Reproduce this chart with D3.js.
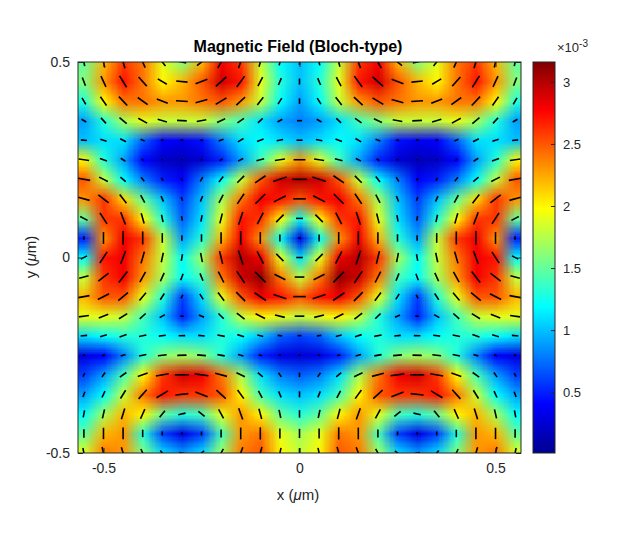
<!DOCTYPE html>
<html>
<head>
<meta charset="utf-8">
<script src="https://cdn.jsdelivr.net/npm/d3@7"></script>
<style>
  body { margin: 0; background: #fff; }
  text { font-family: "Liberation Sans", Arial, sans-serif; }
</style>
</head>
<body>
<div id="chart"></div>
<script>
// grid positions (um)
var xs_grid = [-0.55,-0.5,-0.45,-0.4,-0.35,-0.3,-0.25,-0.2,-0.15,-0.1,-0.05,0,0.05,0.1,0.15,0.2,0.25,0.3,0.35,0.4,0.45,0.5,0.55];
var ys_grid = [0.5,0.45,0.4,0.35,0.3,0.25,0.2,0.15,0.1,0.05,0,-0.05,-0.1,-0.15,-0.2,-0.25,-0.3,-0.35,-0.4,-0.45,-0.5];

// |B| (x1e-3), one row per ys_grid value
var magnitude = [
  [1.5,2.2,2.6,2.4,1.9,1.6,2.2,2.8,2.6,1.8,1.2,1.0,1.2,1.8,2.6,2.8,2.2,1.6,1.9,2.4,2.6,2.2,1.5],
  [1.6,2.3,2.7,2.4,2.0,2.2,2.5,2.9,2.7,1.9,1.3,1.0,1.3,1.9,2.7,2.9,2.5,2.2,2.0,2.4,2.7,2.3,1.6],
  [1.3,2.0,2.4,2.4,2.3,2.3,2.4,2.5,2.3,1.8,1.2,0.9,1.2,1.8,2.3,2.5,2.4,2.3,2.3,2.4,2.4,2.0,1.3],
  [0.9,1.3,1.7,1.9,1.8,1.8,1.8,1.6,1.4,1.1,0.9,0.8,0.9,1.1,1.4,1.6,1.8,1.8,1.8,1.9,1.7,1.3,0.9],
  [1.0,1.1,1.1,0.7,0.4,0.35,0.45,0.8,1.1,1.2,1.1,1.0,1.1,1.2,1.1,0.8,0.45,0.35,0.4,0.7,1.1,1.1,1.0],
  [2.0,1.3,0.9,0.4,0.2,0.15,0.25,0.5,0.9,1.4,1.9,2.3,1.9,1.4,0.9,0.5,0.25,0.15,0.2,0.4,0.9,1.3,2.0],
  [2.5,1.8,1.2,0.8,0.5,0.4,0.8,1.2,1.8,2.5,2.9,3.0,2.9,2.5,1.8,1.2,0.8,0.4,0.5,0.8,1.2,1.8,2.5],
  [2.3,2.6,2.1,1.5,1.0,0.6,1.0,1.7,2.4,2.8,2.7,2.5,2.7,2.8,2.4,1.7,1.0,0.6,1.0,1.5,2.1,2.6,2.3],
  [1.5,2.6,2.6,2.0,1.3,0.7,1.1,1.9,2.7,2.6,2.0,1.2,2.0,2.6,2.7,1.9,1.1,0.7,1.3,2.0,2.6,2.6,1.5],
  [0.5,2.3,2.8,2.6,1.8,0.9,1.3,2.2,2.8,2.3,1.2,0.3,1.2,2.3,2.8,2.2,1.3,0.9,1.8,2.6,2.8,2.3,0.5],
  [1.2,2.7,2.8,2.4,1.8,1.2,1.7,2.6,3.0,2.8,1.9,1.1,1.9,2.8,3.0,2.6,1.7,1.2,1.8,2.4,2.8,2.7,1.2],
  [1.8,2.6,2.8,2.3,1.7,1.2,1.4,2.4,2.9,3.1,2.4,1.8,2.4,3.1,2.9,2.4,1.4,1.2,1.7,2.3,2.8,2.6,1.8],
  [2.2,2.5,2.5,1.9,1.3,0.6,1.1,1.9,2.5,2.8,2.7,2.5,2.7,2.8,2.5,1.9,1.1,0.6,1.3,1.9,2.5,2.5,2.2],
  [1.9,1.9,1.8,1.4,1.0,0.5,0.9,1.3,1.8,2.0,1.9,1.8,1.9,2.0,1.8,1.3,0.9,0.5,1.0,1.4,1.8,1.9,1.9],
  [1.1,1.2,1.3,1.3,1.2,1.1,1.1,1.3,1.2,1.0,0.7,0.6,0.7,1.0,1.2,1.3,1.1,1.1,1.2,1.3,1.3,1.2,1.1],
  [0.3,0.4,0.8,1.3,1.6,1.7,1.6,1.3,0.9,0.5,0.3,0.25,0.3,0.5,0.9,1.3,1.6,1.7,1.6,1.3,0.8,0.4,0.3],
  [0.6,0.9,1.4,2.0,2.6,2.9,2.8,2.4,1.7,1.1,0.8,0.7,0.8,1.1,1.7,2.4,2.8,2.9,2.6,2.0,1.4,0.9,0.6],
  [0.9,1.2,1.8,2.4,2.7,2.6,2.6,2.5,2.0,1.4,1.1,1.0,1.1,1.4,2.0,2.5,2.6,2.6,2.7,2.4,1.8,1.2,0.9],
  [1.2,1.7,2.2,2.0,1.5,1.3,1.4,1.9,2.3,2.0,1.5,1.3,1.5,2.0,2.3,1.9,1.4,1.3,1.5,2.0,2.2,1.7,1.2],
  [1.5,2.2,2.3,1.3,0.6,0.3,0.6,1.4,2.3,2.4,1.9,1.7,1.9,2.4,2.3,1.4,0.6,0.3,0.6,1.3,2.3,2.2,1.5],
  [1.9,2.4,2.3,1.6,1.1,0.9,1.1,1.7,2.4,2.5,2.0,1.8,2.0,2.5,2.4,1.7,1.1,0.9,1.1,1.6,2.3,2.4,1.9]
];

// in-plane direction of the arrows (degrees from +x), same grid
var direction = [
  [-79,-77,-73,-66,-51,-12,38,61,70,75,78,90,-78,-75,-70,-61,-38,12,51,66,73,77,79],
  [-69,-65,-58,-48,-31,-6,21,42,54,62,67,90,-67,-62,-54,-42,-21,6,31,48,58,65,69],
  [-60,-55,-47,-36,-22,-4,15,31,43,52,58,90,-58,-52,-43,-31,-15,4,22,36,47,55,60],
  [-30,-47,-39,-29,-17,-3,11,24,35,43,30,0,-30,-43,-35,-24,-11,3,17,29,39,47,30],
  [-6,-17,-27,-24,-14,-3,9,20,30,22,11,0,-11,-22,-30,-20,-9,3,14,24,27,17,6],
  [-8,-21,-32,-42,-30,-2,25,35,25,15,8,0,-8,-15,-25,-35,-25,2,30,42,32,21,8],
  [-10,-27,-40,-50,-57,-62,59,53,45,34,18,0,-18,-34,-45,-53,-59,62,57,50,40,27,10],
  [-15,-38,-52,-61,-66,-70,68,63,56,45,27,0,-27,-45,-56,-63,-68,70,66,61,52,38,15],
  [-28,-57,-69,-74,-78,-80,79,76,72,63,45,0,-45,-63,-72,-76,-79,80,78,74,69,57,28],
  [90,90,90,90,90,90,90,90,90,90,90,0,90,90,90,90,90,90,90,90,90,90,90],
  [28,57,69,74,78,80,-79,-76,-72,-63,-45,0,45,63,72,76,79,-80,-78,-74,-69,-57,-28],
  [15,38,52,61,66,70,-68,-63,-56,-45,-27,0,27,45,56,63,68,-70,-66,-61,-52,-38,-15],
  [10,27,40,50,57,62,-59,-53,-45,-34,-18,0,18,34,45,53,59,-62,-57,-50,-40,-27,-10],
  [8,21,32,42,30,2,-25,-45,-37,-27,-14,0,14,27,37,45,25,-2,-30,-42,-32,-21,-8],
  [6,17,20,12,7,2,-5,-10,-18,-15,-8,0,8,15,18,10,5,-2,-7,-12,-20,-17,-6],
  [5,30,20,12,6,2,-5,-10,-15,-20,-15,0,15,20,15,10,5,-2,-6,-12,-20,-30,-5],
  [60,55,35,20,10,0,-8,-15,-25,-40,-55,90,55,40,25,15,8,0,-10,-20,-35,-55,-60],
  [69,65,58,48,31,6,-21,-42,-54,-62,-67,90,67,62,54,42,21,-6,-31,-48,-58,-65,-69],
  [79,77,73,66,51,12,-38,-61,-70,-75,-78,90,78,75,70,61,38,-12,-51,-66,-73,-77,-79],
  [90,90,90,90,90,90,90,90,90,90,90,90,90,90,90,90,90,90,90,90,90,90,90],
  [-79,-77,-73,-66,-51,-12,38,61,70,75,78,90,-78,-75,-70,-61,-38,12,51,66,73,77,79]
];

var x_ticks = [-0.5, 0, 0.5];
var y_ticks = [-0.5, 0, 0.5];
var cbar_ticks = [0.5, 1, 1.5, 2, 2.5, 3];
var cbar_range = [0.01, 3.16];

const width = 640, height = 533;
const plot = {left: 78, right: 521, top: 62, bottom: 453};
const fmt = d => String(d);   // plain hyphen minus, like MATLAB

const svg = d3.select("#chart").append("svg")
  .attr("width", width).attr("height", height);
svg.append("rect").attr("width", width).attr("height", height).attr("fill", "#fff");

const x = d3.scaleLinear().domain([-0.565, 0.565]).range([plot.left, plot.right]);
const y = d3.scaleLinear().domain([-0.5, 0.5]).range([plot.bottom, plot.top]);

// MATLAB jet
const jetStops = ["#00008f", "#0000ff", "#00ffff", "#ffff00", "#ff0000", "#800000"];
const jetPos = [0, 0.125, 0.375, 0.625, 0.875, 1];
const jet = d3.scaleLinear().domain(jetPos).range(jetStops).clamp(true);
const color = v => jet((v - cbar_range[0]) / (cbar_range[1] - cbar_range[0]));

svg.append("clipPath").attr("id", "clip")
  .append("rect")
  .attr("x", plot.left).attr("y", plot.top)
  .attr("width", plot.right - plot.left).attr("height", plot.bottom - plot.top);

// heat map: one canvas pixel per grid node, scaled up smoothly
const cv = document.createElement("canvas");
cv.width = xs_grid.length; cv.height = ys_grid.length;
const ctx = cv.getContext("2d");
magnitude.forEach((row, j) => row.forEach((v, i) => {
  ctx.fillStyle = color(v);
  ctx.fillRect(i, j, 1, 1);
}));
const dx = 0.025, dy = 0.025;
svg.append("g").attr("clip-path", "url(#clip)")
  .append("image")
  .attr("href", cv.toDataURL())
  .attr("x", x(xs_grid[0] - dx))
  .attr("y", y(ys_grid[0] + dy))
  .attr("width", x(xs_grid[xs_grid.length - 1] + dx) - x(xs_grid[0] - dx))
  .attr("height", y(ys_grid[ys_grid.length - 1] - dy) - y(ys_grid[0] + dy))
  .attr("preserveAspectRatio", "none");

// arrows
const arrows = [];
ys_grid.forEach((yy, j) => xs_grid.forEach((xx, i) => {
  arrows.push({x: xx, y: yy, m: magnitude[j][i], a: direction[j][i]});
}));
const len = m => 15 * Math.pow(m / 3.1, 0.8);
svg.append("g").attr("clip-path", "url(#clip)")
  .selectAll("line").data(arrows).join("line")
  .attr("x1", d => x(d.x) - len(d.m) / 2 * Math.cos(d.a * Math.PI / 180))
  .attr("x2", d => x(d.x) + len(d.m) / 2 * Math.cos(d.a * Math.PI / 180))
  .attr("y1", d => y(d.y) + len(d.m) / 2 * Math.sin(d.a * Math.PI / 180))
  .attr("y2", d => y(d.y) - len(d.m) / 2 * Math.sin(d.a * Math.PI / 180))
  .attr("stroke", "#000").attr("stroke-width", 1.6);

// axes (ticks inward, MATLAB style)
const fs = 14;
svg.append("g").attr("transform", `translate(0,${plot.bottom})`)
  .call(d3.axisBottom(x).tickValues(x_ticks).tickSizeInner(-5).tickSizeOuter(0).tickPadding(10).tickFormat(fmt))
  .call(g => g.select(".domain").remove())
  .selectAll("text").attr("font-size", fs);
svg.append("g").attr("transform", `translate(0,${plot.top})`)
  .call(d3.axisTop(x).tickValues(x_ticks).tickSizeInner(-5).tickSizeOuter(0).tickFormat(""))
  .call(g => g.select(".domain").remove());
svg.append("g").attr("transform", `translate(${plot.left},0)`)
  .call(d3.axisLeft(y).tickValues(y_ticks).tickSizeInner(-5).tickSizeOuter(0).tickPadding(8).tickFormat(fmt))
  .call(g => g.select(".domain").remove())
  .selectAll("text").attr("font-size", fs);
svg.append("g").attr("transform", `translate(${plot.right},0)`)
  .call(d3.axisRight(y).tickValues(y_ticks).tickSizeInner(-5).tickSizeOuter(0).tickFormat(""))
  .call(g => g.select(".domain").remove());
svg.selectAll(".tick line").attr("stroke", "#262626");
svg.selectAll(".tick text").attr("fill", "#262626");
svg.append("rect")
  .attr("x", plot.left).attr("y", plot.top)
  .attr("width", plot.right - plot.left).attr("height", plot.bottom - plot.top)
  .attr("fill", "none").attr("stroke", "#262626").attr("stroke-width", 1);

// labels
svg.append("text").attr("x", 298).attr("y", 52).attr("text-anchor", "middle")
  .attr("font-size", 16).attr("font-weight", "bold").attr("fill", "#000")
  .text("Magnetic Field (Bloch-type)");
svg.append("text").attr("x", 298).attr("y", 500).attr("text-anchor", "middle")
  .attr("font-size", 15).attr("fill", "#262626")
  .text("x (").append("tspan").attr("font-style", "italic").text("μ")
  .select(function() { return this.parentNode; }).append("tspan").text("m)");
svg.append("text").attr("transform", "translate(36,257) rotate(-90)").attr("text-anchor", "middle")
  .attr("font-size", 15).attr("fill", "#262626")
  .text("y (").append("tspan").attr("font-style", "italic").text("μ")
  .select(function() { return this.parentNode; }).append("tspan").text("m)");

// colorbar
const cb = {left: 533, right: 555};
const cy = d3.scaleLinear().domain(cbar_range).range([plot.bottom, plot.top]);
const grad = svg.append("defs").append("linearGradient").attr("id", "jet")
  .attr("x1", 0).attr("y1", 1).attr("x2", 0).attr("y2", 0);
grad.selectAll("stop").data(jetPos).join("stop")
  .attr("offset", d => d).attr("stop-color", (d, i) => jetStops[i]);
svg.append("rect").attr("x", cb.left).attr("y", plot.top)
  .attr("width", cb.right - cb.left).attr("height", plot.bottom - plot.top)
  .attr("fill", "url(#jet)");
svg.append("g").attr("transform", `translate(${cb.right},0)`)
  .call(d3.axisRight(cy).tickValues(cbar_ticks).tickSizeInner(-4).tickSizeOuter(0).tickPadding(8).tickFormat(fmt))
  .call(g => g.select(".domain").remove())
  .call(g => g.selectAll("line").attr("stroke", "#262626"))
  .selectAll("text").attr("font-size", 13).attr("fill", "#262626");
svg.append("rect").attr("x", cb.left).attr("y", plot.top)
  .attr("width", cb.right - cb.left).attr("height", plot.bottom - plot.top)
  .attr("fill", "none").attr("stroke", "#262626");
const ex = svg.append("text").attr("x", 557).attr("y", 52).attr("font-size", 13).attr("fill", "#262626");
ex.append("tspan").text("×10");
ex.append("tspan").attr("dy", -5).attr("font-size", 10).text("-3");
</script>
</body>
</html>
